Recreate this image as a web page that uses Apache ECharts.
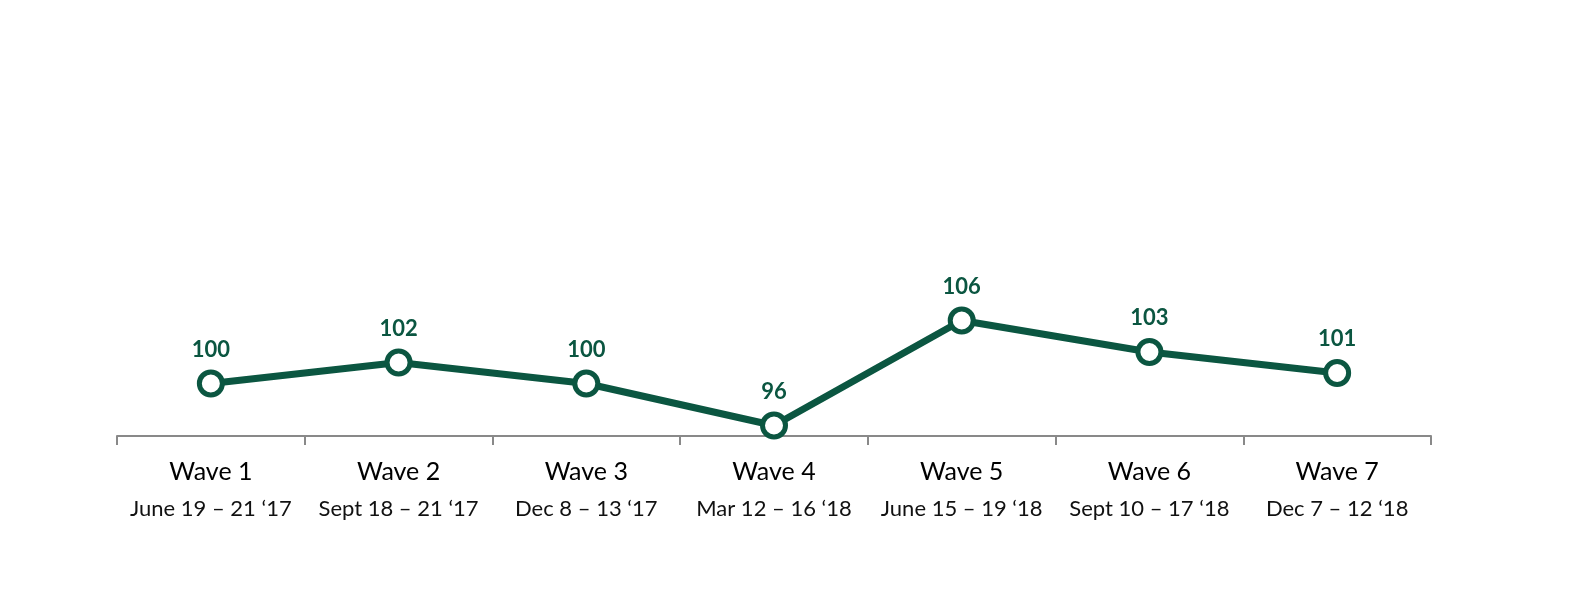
<!DOCTYPE html>
<html><head><meta charset="utf-8">
<script src="https://cdn.jsdelivr.net/npm/echarts@6/dist/echarts.min.js"></script>
<style>html,body{margin:0;padding:0;background:#fff;overflow:hidden}#c{width:100vw;height:100vh}</style>
</head><body><div id="c"></div>
<script>
const waves = ['Wave 1','Wave 2','Wave 3','Wave 4','Wave 5','Wave 6','Wave 7'];
const dates = ['June 19 \u2013 21 \u201817','Sept 18 \u2013 21 \u201817','Dec 8 \u2013 13 \u201817','Mar 12 \u2013 16 \u201818','June 15 \u2013 19 \u201818','Sept 10 \u2013 17 \u201818','Dec 7 \u2013 12 \u201818'];
const values = [100,102,100,96,106,103,101];
const categories = waves.map((w,i)=>w+'\n'+dates[i]);
const green = '#0b5641';
const el = document.getElementById('c');
const W = el.clientWidth, H = el.clientHeight;
const chart = echarts.init(el);
chart.setOption({
  animation:false,
  grid:{left:117,right:W-1431,top:68.5,bottom:H-436},
  xAxis:{type:'category',data:categories,boundaryGap:true,
    axisLine:{lineStyle:{color:'#898989',width:2}},
    axisTick:{show:true,length:9,inside:false,lineStyle:{color:'#898989',width:2}},
    axisLabel:{interval:0,margin:17,formatter:function(v){const p=v.split('\n');return '{a|'+p[0]+'}\n{b|'+p[1]+'}';},
      rich:{a:{fontFamily:'Lato',fontSize:25,color:'#000',lineHeight:37},b:{fontFamily:'Lato',fontSize:22,color:'#111',lineHeight:37}}}},
  yAxis:{type:'value',min:95,max:130,show:false,splitLine:{show:false}},
  series:[{type:'line',data:values,symbol:'circle',symbolSize:23,
    lineStyle:{color:green,width:7},
    itemStyle:{color:'#fff',borderColor:green,borderWidth:5},
    label:{show:true,position:'top',distance:9,color:green,fontFamily:'Lato',fontWeight:'bold',fontSize:22}}]
});
</script></body></html>
